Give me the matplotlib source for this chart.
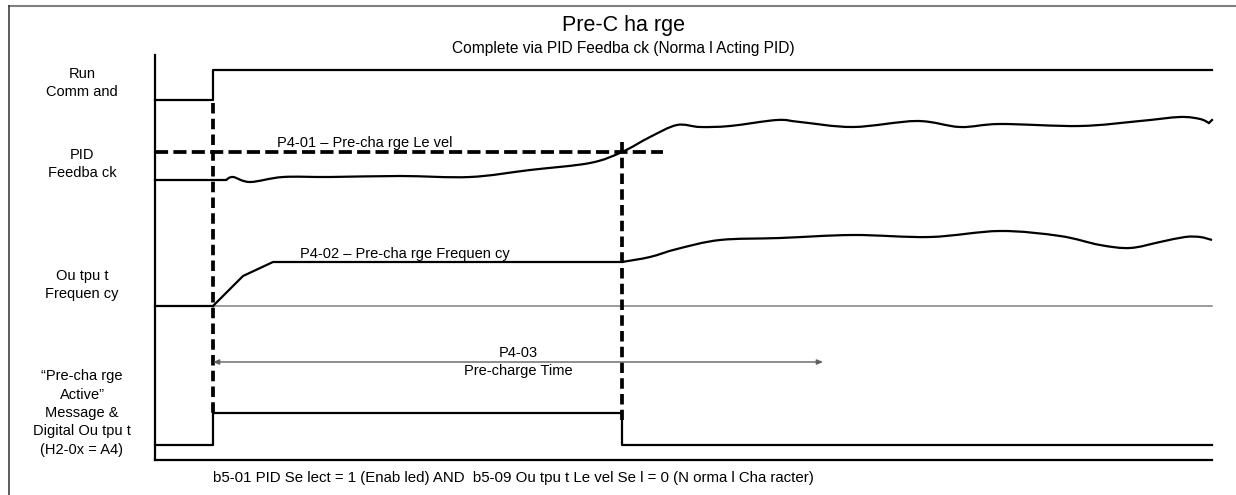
import matplotlib
matplotlib.use("Agg")
import matplotlib.pyplot as plt
from matplotlib.path import Path
from matplotlib.patches import PathPatch

plt.rcParams['font.family'] = ['Liberation Sans', 'DejaVu Sans']

# ---- data (diagram units: x = time position, y = signal level, both in canvas units) ----
t_start, t_on, t_cross, t_end = 155, 213, 622, 1212

run_x = [t_start, t_on, t_on, t_end]
run_y = [100, 100, 70, 70]

pid_level_y = 152
pid_level_x = [t_start, 663]

pid_flat_x = [155, 226]
pid_flat_y = [180, 180]
pid_x = [226, 233, 250, 283, 330, 400, 470, 530, 590, 622, 650, 677,
         700, 730, 777, 800, 853, 917, 960, 1000, 1080, 1140, 1180, 1200, 1209]
pid_y = [180, 177, 182, 177, 177, 176, 177, 170, 163, 152, 137, 125,
         127, 126, 120, 122, 127, 121, 127, 124, 126, 121, 117, 119, 123]
pid_tip_x = [1209, 1212]
pid_tip_y = [123, 120]

freq_zero_y = 306
freq_ramp_x = [213, 243, 273, 622]
freq_ramp_y = [306, 276, 262, 262]
freq_x = [622, 650, 677, 720, 780, 853, 930, 1000, 1060, 1100, 1130,
          1160, 1185, 1200, 1212]
freq_y = [262, 257, 249, 240, 238, 235, 237, 231, 236, 245, 248,
          242, 237, 237, 240]

act_x = [t_start, t_on, t_on, t_cross, t_cross, t_end]
act_y = [445, 445, 413, 413, 445, 445]
axis_bottom_y = 460

arrow_y = 362
arrow_x = [t_on, 823]

row_labels = ["Run\nComm and", "PID\nFeedba ck", "Ou tpu t\nFrequen cy",
              "\u201cPre-cha rge\nActive\u201d\nMessage &\nDigital Ou tpu t\n(H2-0x = A4)"]
row_label_y = [83, 164, 285, 413]

title = "Pre-C ha rge"
subtitle = "Complete via PID Feedba ck (Norma l Acting PID)"
footer = "b5-01 PID Se lect = 1 (Enab led) AND  b5-09 Ou tpu t Le vel Se l = 0 (N orma l Cha racter)"
lbl_level = "P4-01 \u2013 Pre-cha rge Le vel"
lbl_freq = "P4-02 \u2013 Pre-cha rge Frequen cy"
lbl_time = "P4-03\nPre-charge Time"


def smooth_path(xs, ys):
    """Catmull-Rom curve through the points, expressed as cubic Bezier path."""
    pts = list(zip(xs, ys))
    verts = [pts[0]]
    codes = [Path.MOVETO]
    n = len(pts)
    for i in range(n - 1):
        p0 = pts[i - 1] if i > 0 else pts[i]
        p1 = pts[i]
        p2 = pts[i + 1]
        p3 = pts[i + 2] if i + 2 < n else pts[i + 1]
        c1 = (p1[0] + (p2[0] - p0[0]) / 6, p1[1] + (p2[1] - p0[1]) / 6)
        c2 = (p2[0] - (p3[0] - p1[0]) / 6, p2[1] - (p3[1] - p1[1]) / 6)
        verts += [c1, c2, p2]
        codes += [Path.CURVE4] * 3
    return Path(verts, codes)


# ---- figure ----
W, H = 1236, 495
fig = plt.figure(figsize=(W / 100, H / 100), dpi=100)
ax = fig.add_axes([0, 0, 1, 1])
ax.set_xlim(0, W)
ax.set_ylim(H, 0)
ax.axis('off')

# outer frame (top + left visible)
ax.plot([8, 1240], [5.5, 5.5], color='#808080', lw=1.5, solid_capstyle='butt')
ax.plot([8.5, 8.5], [5, 500], color='#404040', lw=1.2, solid_capstyle='butt')

blk = 'black'
slw = 1.6
dlw = 2.7

# vertical axis and bottom line
ax.plot([t_start, t_start], [55, axis_bottom_y], color=blk, lw=slw)
ax.plot([t_start, t_end], [axis_bottom_y, axis_bottom_y], color=blk, lw=slw)

# run command
ax.plot(run_x, run_y, color=blk, lw=slw)

# PID feedback
ax.plot(pid_flat_x, pid_flat_y, color=blk, lw=slw)
ax.add_patch(PathPatch(smooth_path(pid_x, pid_y), fill=False, edgecolor=blk, lw=slw))
ax.plot(pid_tip_x, pid_tip_y, color=blk, lw=slw)
ax.plot(pid_level_x, [pid_level_y] * 2, color=blk, lw=dlw, dashes=(3.5, 1.4))

# output frequency
ax.plot([t_start, t_end], [freq_zero_y] * 2, color='#808080', lw=1.1)
ax.plot([t_start, t_on], [freq_zero_y] * 2, color=blk, lw=slw)
ax.plot(freq_ramp_x, freq_ramp_y, color=blk, lw=slw)
ax.add_patch(PathPatch(smooth_path(freq_x, freq_y), fill=False, edgecolor=blk, lw=slw))

# pre-charge active
ax.plot(act_x, act_y, color=blk, lw=slw)

# dashed verticals
ax.plot([t_on, t_on], [103, 418], color=blk, lw=dlw, dashes=(2.8, 1.4))
ax.plot([t_cross, t_cross], [142, 420], color=blk, lw=dlw, dashes=(2.8, 1.4))

# time arrow
ax.annotate('', xy=(arrow_x[0], arrow_y), xytext=(arrow_x[1], arrow_y),
            arrowprops=dict(arrowstyle='<|-|>,head_length=0.35,head_width=0.15',
                            color='#606060', lw=1.0, shrinkA=0, shrinkB=0))

# text
ax.text(623, 26, title, ha='center', va='center', fontsize=15.5)
ax.text(623, 48, subtitle, ha='center', va='center', fontsize=11.2)
for lbl, yy in zip(row_labels, row_label_y):
    ax.text(82, yy, lbl, ha='center', va='center', fontsize=10.5, linespacing=1.4)
ax.text(277, 143, lbl_level, ha='left', va='center', fontsize=10.5)
ax.text(300, 254, lbl_freq, ha='left', va='center', fontsize=10.5)
ax.text(518, 362, lbl_time, ha='center', va='center', fontsize=10.5, linespacing=1.4)
ax.text(213, 478, footer, ha='left', va='center', fontsize=10.8)

fig.savefig('out.png', dpi=100)
